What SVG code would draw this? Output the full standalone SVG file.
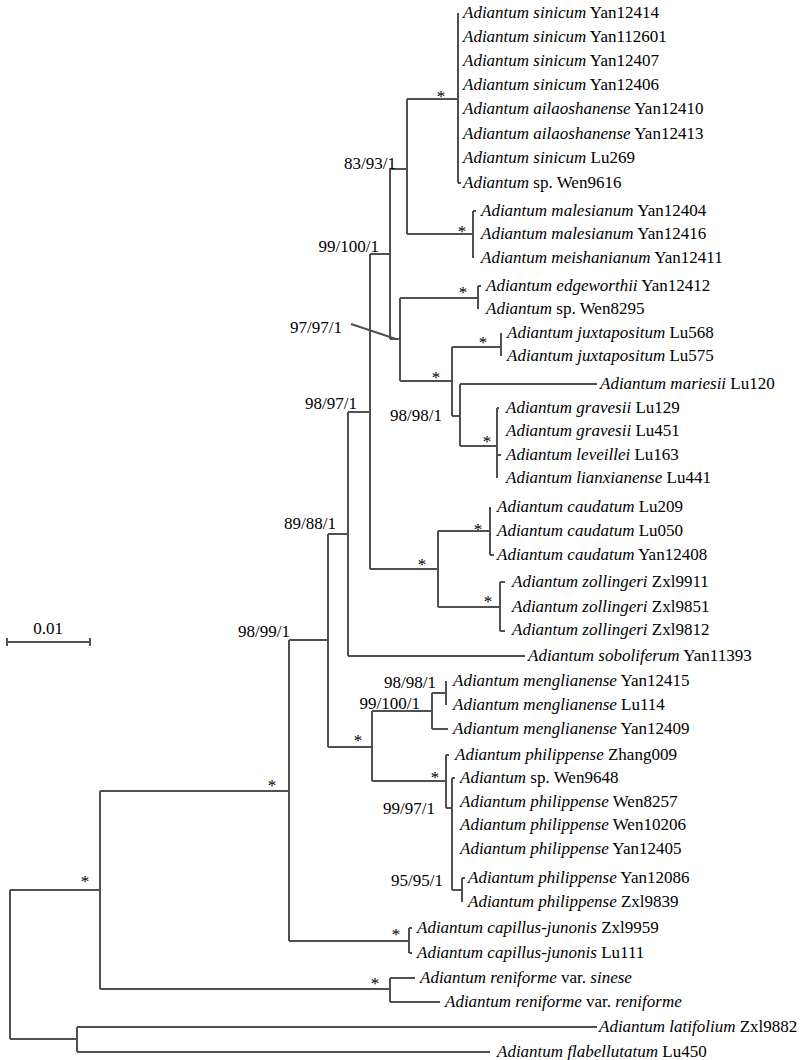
<svg xmlns="http://www.w3.org/2000/svg" width="800" height="1060" viewBox="0 0 800 1060">
<style>
text{font-family:"Liberation Serif","Times New Roman",serif;font-size:17px;fill:#000}
.i{font-style:italic}
.s{text-anchor:middle}
.e{text-anchor:end}
#connectors path,#scale path{fill:none;stroke:#505050;stroke-width:2}
</style>
<rect width="800" height="1060" fill="#fff"/>
<g id="connectors">
<path d="M10,890V1039M10,890H100M10,1039H77"/>
<path d="M77,1027V1052M77,1027H597M77,1052H490"/>
<path d="M100,791V989M100,791H289M100,989H390"/>
<path d="M390,978V1002M390,978H415M390,1002H440"/>
<path d="M289,640V941M289,640H328M289,941H409"/>
<path d="M409,928V953M409,928H412M409,953H412"/>
<path d="M328,534V747M328,534H348M328,747H372"/>
<path d="M372,711V781M372,711H432M372,781H446"/>
<path d="M432,693V729M432,693H446M432,729H448"/>
<path d="M446,681V705"/>
<path d="M446,755V808M446,755H449M446,808H452"/>
<path d="M452,778V890M452,778H455M452,890H462"/>
<path d="M462,878V902M462,878H465"/>
<path d="M348,412V656M348,412H370M348,656H525"/>
<path d="M370,254V569M370,254H390M370,569H438"/>
<path d="M438,531V607M438,531H490M438,607H500"/>
<path d="M490,507V555M490,555H494"/>
<path d="M500,582V631M500,582H505M500,631H505"/>
<path d="M390,169V339M390,169H407M390,339H400"/>
<path d="M407,99V234M407,99H458M407,234H473"/>
<path d="M458,13V183M458,183H461"/>
<path d="M473,211V258M473,211H476"/>
<path d="M400,298V381M400,298H478M400,381H452"/>
<path d="M478,286V309M478,286H481"/>
<path d="M452,347V416M452,347H501M452,416H460"/>
<path d="M501,333V356"/>
<path d="M460,384V446M460,384H597M460,446H497"/>
<path d="M497,408V478M497,408H499M497,455H501"/>
<path d="M351,324L396,339"/>
</g>
<g id="scale">
<path d="M7,642H90M7,638V646M90,638V646"/>
<text x="48" y="634" class="s">0.01</text>
</g>
<g id="leaves" font-family="Liberation Serif, serif">
<g id="L1"><text x="463" y="18"><tspan class="i">Adiantum sinicum</tspan> Yan12414</text></g>
<g id="L2"><text x="463" y="42"><tspan class="i">Adiantum sinicum</tspan> Yan112601</text></g>
<g id="L3"><text x="463" y="66"><tspan class="i">Adiantum sinicum</tspan> Yan12407</text></g>
<g id="L4"><text x="463" y="90"><tspan class="i">Adiantum sinicum</tspan> Yan12406</text></g>
<g id="L5"><text x="463" y="114"><tspan class="i">Adiantum ailaoshanense</tspan> Yan12410</text></g>
<g id="L6"><text x="463" y="139"><tspan class="i">Adiantum ailaoshanense</tspan> Yan12413</text></g>
<g id="L7"><text x="463" y="163"><tspan class="i">Adiantum sinicum</tspan> Lu269</text></g>
<g id="L8"><text x="463" y="188"><tspan class="i">Adiantum</tspan> sp. Wen9616</text></g>
<g id="L9"><text x="481" y="216"><tspan class="i">Adiantum malesianum</tspan> Yan12404</text></g>
<g id="L10"><text x="481" y="239"><tspan class="i">Adiantum malesianum</tspan> Yan12416</text></g>
<g id="L11"><text x="481" y="263"><tspan class="i">Adiantum meishanianum</tspan> Yan12411</text></g>
<g id="L12"><text x="486" y="291"><tspan class="i">Adiantum edgeworthii</tspan> Yan12412</text></g>
<g id="L13"><text x="486" y="314"><tspan class="i">Adiantum</tspan> sp. Wen8295</text></g>
<g id="L14"><text x="507" y="338"><tspan class="i">Adiantum juxtapositum</tspan> Lu568</text></g>
<g id="L15"><text x="507" y="361"><tspan class="i">Adiantum juxtapositum</tspan> Lu575</text></g>
<g id="L16"><text x="600" y="389"><tspan class="i">Adiantum mariesii</tspan> Lu120</text></g>
<g id="L17"><text x="506" y="413"><tspan class="i">Adiantum gravesii</tspan> Lu129</text></g>
<g id="L18"><text x="506" y="436"><tspan class="i">Adiantum gravesii</tspan> Lu451</text></g>
<g id="L19"><text x="506" y="460"><tspan class="i">Adiantum leveillei</tspan> Lu163</text></g>
<g id="L20"><text x="506" y="483"><tspan class="i">Adiantum lianxianense</tspan> Lu441</text></g>
<g id="L21"><text x="497" y="512"><tspan class="i">Adiantum caudatum</tspan> Lu209</text></g>
<g id="L22"><text x="497" y="536"><tspan class="i">Adiantum caudatum</tspan> Lu050</text></g>
<g id="L23"><text x="497" y="560"><tspan class="i">Adiantum caudatum</tspan> Yan12408</text></g>
<g id="L24"><text x="512" y="587"><tspan class="i">Adiantum zollingeri</tspan> Zxl9911</text></g>
<g id="L25"><text x="512" y="612"><tspan class="i">Adiantum zollingeri</tspan> Zxl9851</text></g>
<g id="L26"><text x="512" y="635"><tspan class="i">Adiantum zollingeri</tspan> Zxl9812</text></g>
<g id="L27"><text x="528" y="661"><tspan class="i">Adiantum soboliferum</tspan> Yan11393</text></g>
<g id="L28"><text x="453" y="686"><tspan class="i">Adiantum menglianense</tspan> Yan12415</text></g>
<g id="L29"><text x="453" y="710"><tspan class="i">Adiantum menglianense</tspan> Lu114</text></g>
<g id="L30"><text x="453" y="734"><tspan class="i">Adiantum menglianense</tspan> Yan12409</text></g>
<g id="L31"><text x="455" y="760"><tspan class="i">Adiantum philippense</tspan> Zhang009</text></g>
<g id="L32"><text x="460" y="783"><tspan class="i">Adiantum</tspan> sp. Wen9648</text></g>
<g id="L33"><text x="460" y="807"><tspan class="i">Adiantum philippense</tspan> Wen8257</text></g>
<g id="L34"><text x="460" y="830"><tspan class="i">Adiantum philippense</tspan> Wen10206</text></g>
<g id="L35"><text x="460" y="854"><tspan class="i">Adiantum philippense</tspan> Yan12405</text></g>
<g id="L36"><text x="468" y="883"><tspan class="i">Adiantum philippense</tspan> Yan12086</text></g>
<g id="L37"><text x="468" y="907"><tspan class="i">Adiantum philippense</tspan> Zxl9839</text></g>
<g id="L38"><text x="417" y="933"><tspan class="i">Adiantum capillus-junonis</tspan> Zxl9959</text></g>
<g id="L39"><text x="417" y="958"><tspan class="i">Adiantum capillus-junonis</tspan> Lu111</text></g>
<g id="L40"><text x="420" y="983"><tspan class="i">Adiantum reniforme</tspan> var. <tspan class="i">sinese</tspan></text></g>
<g id="L41"><text x="445" y="1007"><tspan class="i">Adiantum reniforme</tspan> var. <tspan class="i">reniforme</tspan></text></g>
<g id="L42"><text x="599" y="1032"><tspan class="i">Adiantum latifolium</tspan> Zxl9882</text></g>
<g id="L43"><text x="497" y="1057"><tspan class="i">Adiantum flabellutatum</tspan> Lu450</text></g>
</g>
<g id="support">
<text x="441" y="102" class="s">*</text>
<text x="462" y="237" class="s">*</text>
<text x="463" y="298" class="s">*</text>
<text x="436" y="383" class="s">*</text>
<text x="483" y="348" class="s">*</text>
<text x="487" y="447" class="s">*</text>
<text x="422" y="570" class="s">*</text>
<text x="478" y="535" class="s">*</text>
<text x="488" y="607" class="s">*</text>
<text x="358" y="746" class="s">*</text>
<text x="435" y="783" class="s">*</text>
<text x="396" y="940" class="s">*</text>
<text x="375" y="989" class="s">*</text>
<text x="272" y="791" class="s">*</text>
<text x="85" y="887" class="s">*</text>
<text x="396" y="169" class="e">83/93/1</text>
<text x="379" y="252" class="e">99/100/1</text>
<text x="342" y="333" class="e">97/97/1</text>
<text x="390" y="421">98/98/1</text>
<text x="357" y="409" class="e">98/97/1</text>
<text x="336" y="529" class="e">89/88/1</text>
<text x="290" y="637" class="e">98/99/1</text>
<text x="436" y="688" class="e">98/98/1</text>
<text x="420" y="709" class="e">99/100/1</text>
<text x="435" y="814" class="e">99/97/1</text>
<text x="443" y="886" class="e">95/95/1</text>
</g>
</svg>
